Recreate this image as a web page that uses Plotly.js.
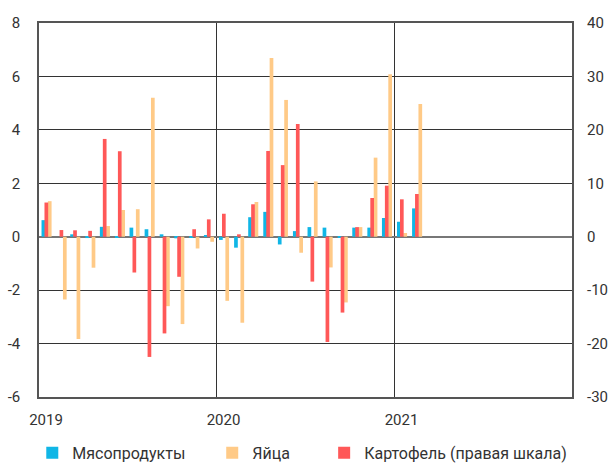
<!DOCTYPE html>
<html>
<head>
<meta charset="utf-8">
<script src="https://cdn.plot.ly/plotly-3.0.1.min.js"></script>
<style>
  body { margin: 0; background: #fff; }
  #plotArea { width: 612px; height: 465px; }
</style>
</head>
<body>
<div id="plotArea"></div>
<script>
// monthly changes, Jan 2019 - Feb 2021
var months = ["2019-01-01", "2019-02-01", "2019-03-01", "2019-04-01", "2019-05-01", "2019-06-01",
    "2019-07-01", "2019-08-01", "2019-09-01", "2019-10-01", "2019-11-01", "2019-12-01",
    "2020-01-01", "2020-02-01", "2020-03-01", "2020-04-01", "2020-05-01", "2020-06-01",
    "2020-07-01", "2020-08-01", "2020-09-01", "2020-10-01", "2020-11-01", "2020-12-01",
    "2021-01-01", "2021-02-01"];

var meat = [0.62, 0, 0.09, -0.05, 0.37, -0.03, 0.34, 0.28, 0.09, -0.06, -0.03, 0.03,
    -0.12, -0.41, 0.73, 0.93, -0.29, 0.21, 0.36, 0.34, -0.03, 0.34, 0.34, 0.70, 0.56, 1.06];

var eggs = [1.33, -2.35, -3.83, -1.16, 0.40, 1.00, 1.03, 5.20, -2.60, -3.27, -0.44, -0.19,
    -2.40, -3.22, 1.30, 6.69, 5.12, -0.60, 2.07, -1.15, -2.46, 0.36, 2.96, 6.08, 0.14, 4.97];

var potato = [6.4, 1.25, 1.2, 1.1, 18.3, 16.0, -6.7, -22.5, -18.1, -7.5, 1.4, 3.25,
    4.3, 0.45, 6.07, 16.05, 13.4, 21.1, -8.4, -19.7, -14.2, 1.8, 7.25, 9.55, 7.0, 8.0];

var seriesNames = ["Мясопродукты", "Яйца", "Картофель (правая шкала)"];
var yearTicks = ["2019-01-01", "2020-01-01", "2021-01-01", "2022-01-01"];
var yearLabels = ["2019", "2020", "2021", ""];
var leftTicks = [-6, -4, -2, 0, 2, 4, 6, 8];
var leftLabels = ["-6", "-4", "-2", "0", "2", "4", "6", "8"];
var rightTicks = [-30, -20, -10, 0, 10, 20, 30, 40];
var rightLabels = ["-30", "-20", "-10", "0", "10", "20", "30", "40"];

var MONTH = 2.63e9;   // ms, bar width/offset are given in fractions of a month
var barW = 0.25 * MONTH;

var trace = [{
    x: months, y: meat, name: seriesNames[0], type: "bar",
    offset: 0.17 * MONTH, width: barW,
    marker: {color: "#10b6e6"},
    legend: "legend"
}, {
    x: months, y: eggs, name: seriesNames[1], type: "bar",
    offset: 0.60 * MONTH, width: barW,
    marker: {color: "#ffca87"},
    legend: "legend2"
}, {
    x: months, y: potato, name: seriesNames[2], type: "bar",
    offset: 0.37 * MONTH, width: barW,
    marker: {color: "#ff5858"},
    yaxis: "y2",
    legend: "legend3"
}];

var tickFont = {family: "Roboto, sans-serif", size: 15, color: "#333"};
var legFont = {family: "Roboto, sans-serif", size: 16, color: "#333"};
var legY = 0.026;

var layout = {
    width: 612, height: 465,
    margin: {l: 39, r: 40, t: 23, b: 68},
    paper_bgcolor: "#fff", plot_bgcolor: "#fff",
    barmode: "overlay",
    showlegend: true,
    xaxis: {
        type: "date",
        range: ["2019-01-01", "2022-01-01"],
        tickmode: "array", tickvals: yearTicks, ticktext: yearLabels,
        ticklabelshift: 7, ticklabelstandoff: 8,
        showgrid: true, gridcolor: "#333", gridwidth: 1,
        showline: true, mirror: true, linecolor: "#555", linewidth: 1.5,
        ticks: "", tickfont: tickFont
    },
    yaxis: {
        range: [-6, 8], tickmode: "array", tickvals: leftTicks, ticktext: leftLabels,
        showgrid: true, gridcolor: "#333", gridwidth: 1,
        zeroline: true, zerolinecolor: "#777", zerolinewidth: 1.5,
        showline: true, mirror: true, linecolor: "#555", linewidth: 1.5,
        ticks: "", ticklabelstandoff: 14, tickfont: tickFont
    },
    yaxis2: {
        range: [-30, 40], tickmode: "array", tickvals: rightTicks, ticktext: rightLabels,
        overlaying: "y", side: "right",
        showgrid: false, zeroline: false,
        ticks: "", ticklabelstandoff: 14, tickfont: tickFont
    },
    legend: {orientation: "h", x: -0.0126, xanchor: "left", yref: "container", y: legY, yanchor: "middle",
        font: legFont, bgcolor: "rgba(0,0,0,0)"},
    legend2: {orientation: "h", x: 0.325, xanchor: "left", yref: "container", y: legY, yanchor: "middle",
        font: legFont, bgcolor: "rgba(0,0,0,0)"},
    legend3: {orientation: "h", x: 0.535, xanchor: "left", yref: "container", y: legY, yanchor: "middle",
        font: legFont, bgcolor: "rgba(0,0,0,0)"}
};

Plotly.newPlot("plotArea", trace, layout, {displayModeBar: false});
</script>
</body>
</html>
